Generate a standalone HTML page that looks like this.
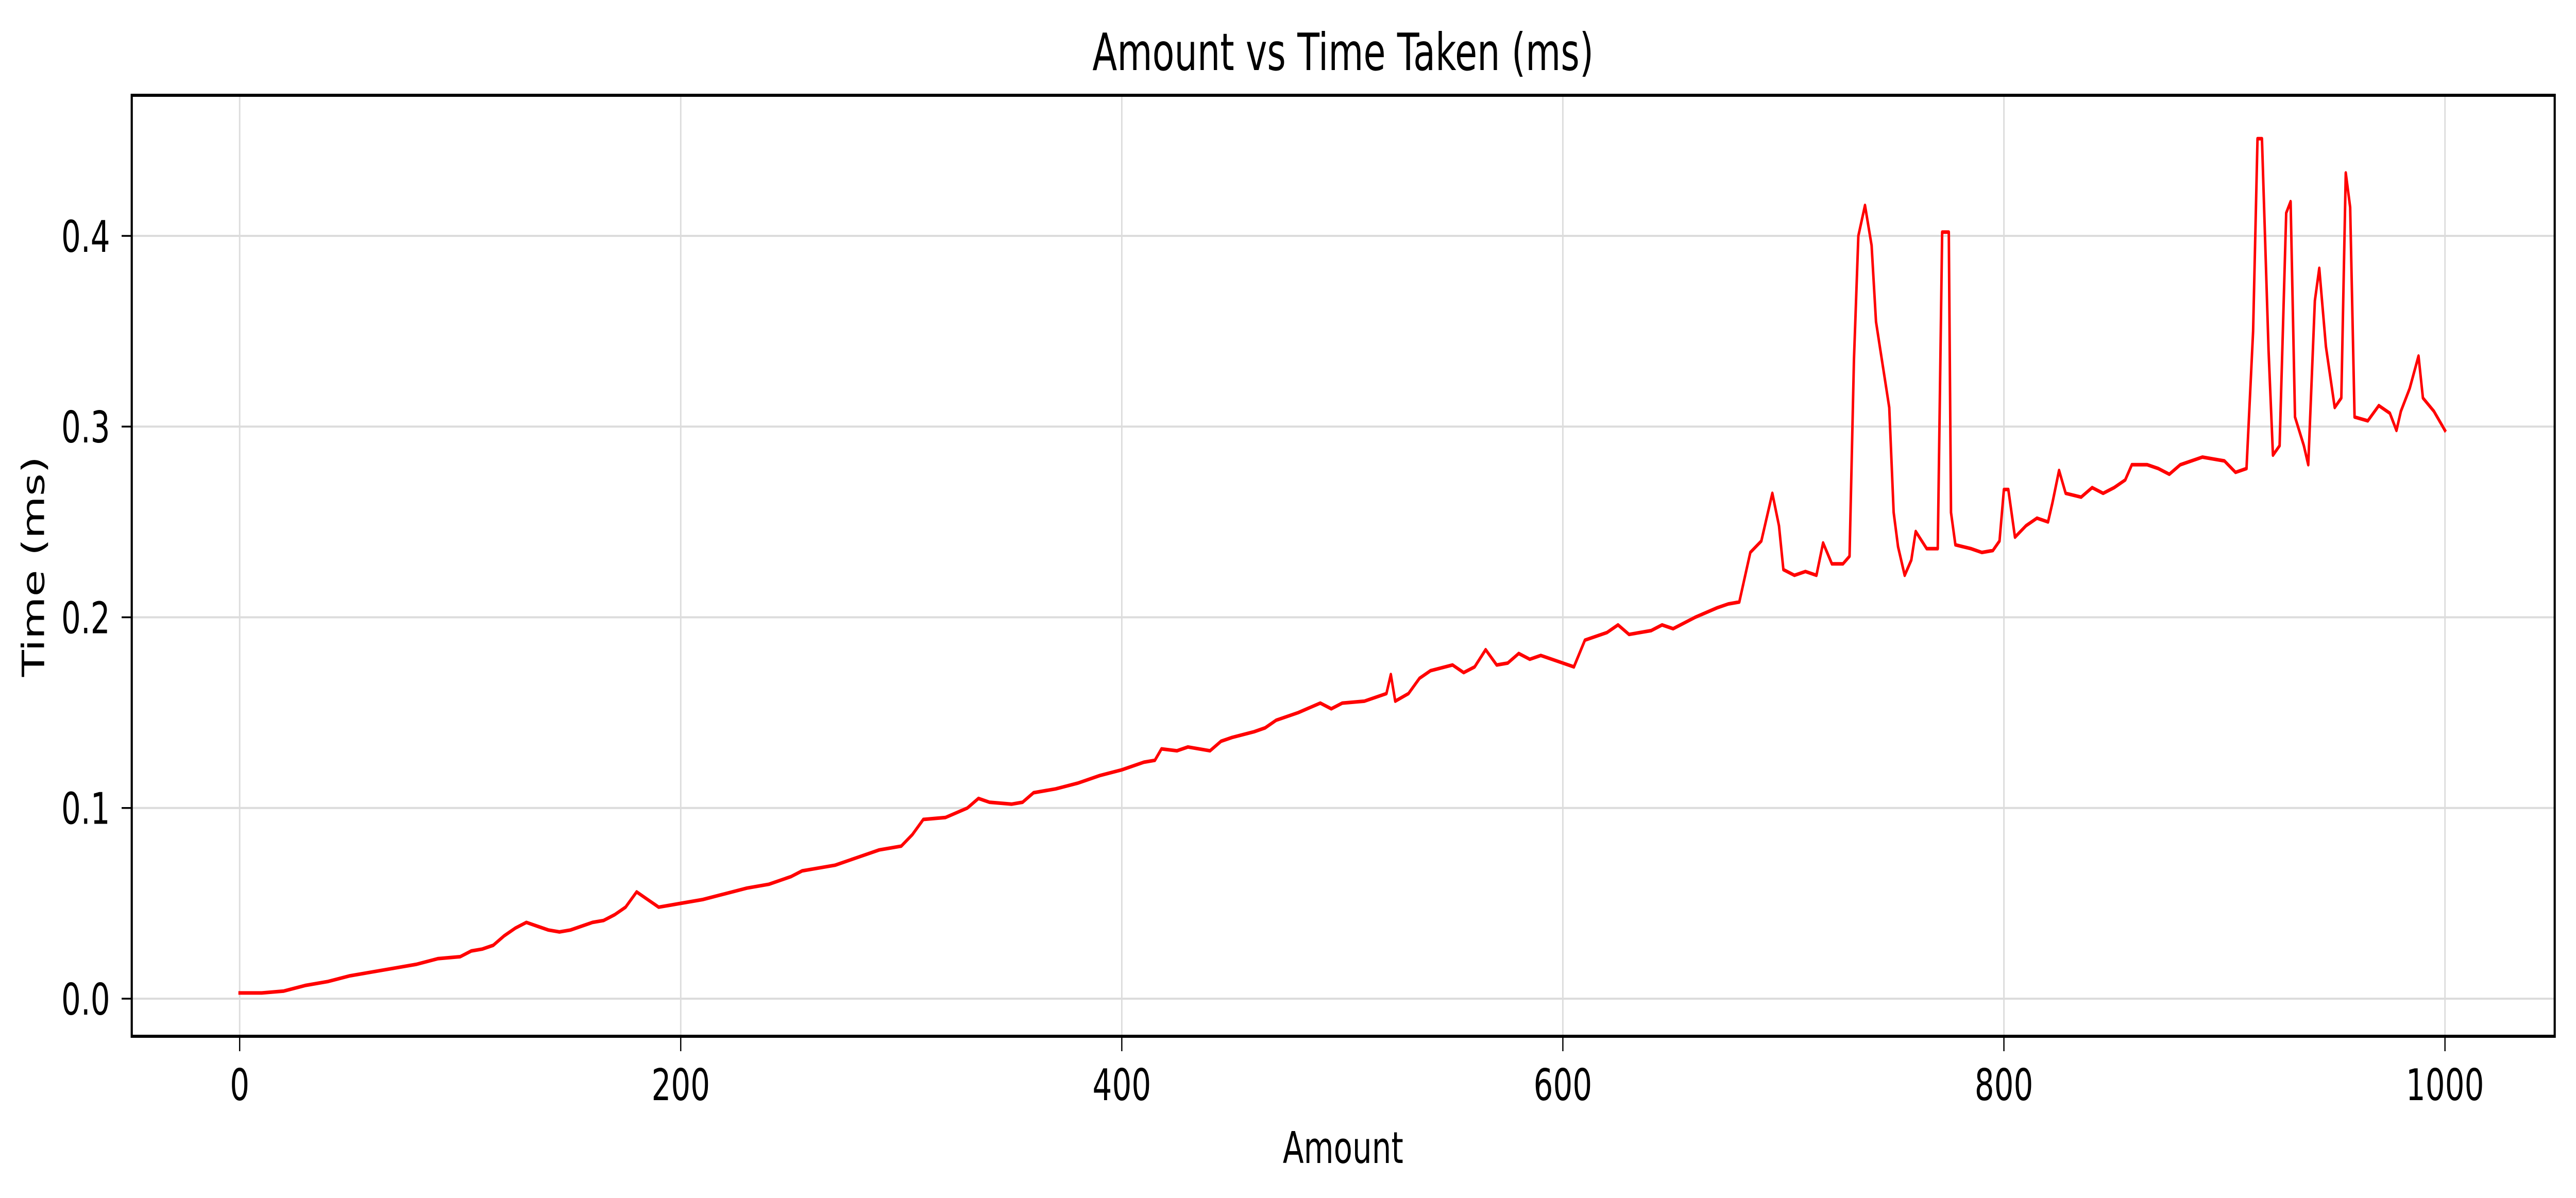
<!DOCTYPE html>
<html><head><meta charset="utf-8"><style>
html,body{margin:0;padding:0;background:#fff;width:100%;height:100%;overflow:hidden;}
svg{display:block;width:100vw;height:100vh;}
text{font-family:"DejaVu Sans","Liberation Sans",sans-serif;fill:#000;}
</style></head>
<body>
<svg id="chart" xmlns="http://www.w3.org/2000/svg" viewBox="0 0 7137 2326" preserveAspectRatio="none">
<rect x="0" y="0" width="7137" height="2326" fill="#fff"/>
<g id="grid"></g>
<g id="series"></g>
<rect x="365" y="185" width="6713" height="1827" fill="none" stroke="#000" stroke-width="6"/>
<g id="ticks"></g>
<text x="3721" y="136" font-size="100" text-anchor="middle">Amount vs Time Taken (ms)</text>
<text x="3721" y="2258" font-size="85" text-anchor="middle">Amount</text>
<text x="0" y="0" font-size="85" text-anchor="middle" transform="translate(122,1100) rotate(-90)">Time (ms)</text>
</svg>
<script>
const amounts=[0,10,20,30,40,50,60,70,80,90,100,105,110,115,120,125,130,135,140,145,150,155,160,165,170,175,180,185,190,195,200,210,220,230,240,250,255,260,270,280,290,300,305,310,320,330,335,340,350,355,360,370,380,390,400,410,415,418,425,430,440,445,450,460,465,470,475,480,490,495,500,510,515,520,522,524,530,535,540,550,555,560,565,570,575,580,585,590,600,605,610,620,625,630,640,645,650,660,670,675,680,685,690,692,695,698,700,705,710,715,718,722,727,730,732,734,737,740,742,744,746,748,750,752,755,758,760,765,770,772,775,776,778,785,790,795,798,800,802,805,810,815,820,822,825,828,835,840,845,850,855,858,865,870,875,880,890,900,905,910,913,915,917,920,922,925,928,930,932,936,938,941,943,946,950,953,955,957,959,965,970,975,978,980,984,988,990,995,1000];
const times=[0.003,0.003,0.004,0.007,0.009,0.012,0.014,0.016,0.018,0.021,0.022,0.025,0.026,0.028,0.033,0.037,0.040,0.038,0.036,0.035,0.036,0.038,0.040,0.041,0.044,0.048,0.056,0.052,0.048,0.049,0.050,0.052,0.055,0.058,0.060,0.064,0.067,0.068,0.070,0.074,0.078,0.080,0.086,0.094,0.095,0.100,0.105,0.103,0.102,0.103,0.108,0.110,0.113,0.117,0.120,0.124,0.125,0.131,0.130,0.132,0.130,0.135,0.137,0.140,0.142,0.146,0.148,0.150,0.155,0.152,0.155,0.156,0.158,0.160,0.170,0.156,0.160,0.168,0.172,0.175,0.171,0.174,0.183,0.175,0.176,0.181,0.178,0.180,0.176,0.174,0.188,0.192,0.196,0.191,0.193,0.196,0.194,0.200,0.205,0.207,0.208,0.234,0.240,0.250,0.265,0.248,0.225,0.222,0.224,0.222,0.239,0.228,0.228,0.232,0.335,0.400,0.416,0.395,0.355,0.340,0.325,0.310,0.255,0.237,0.222,0.230,0.245,0.236,0.236,0.402,0.402,0.255,0.238,0.236,0.234,0.235,0.240,0.267,0.267,0.242,0.248,0.252,0.250,0.260,0.277,0.265,0.263,0.268,0.265,0.268,0.272,0.280,0.280,0.278,0.275,0.280,0.284,0.282,0.276,0.278,0.350,0.451,0.451,0.340,0.285,0.290,0.412,0.418,0.305,0.290,0.280,0.366,0.383,0.342,0.310,0.315,0.433,0.415,0.305,0.303,0.311,0.307,0.298,0.308,0.320,0.337,0.315,0.308,0.298];
const xTicks=[0,200,400,600,800,1000];
const xTickLabels=["0","200","400","600","800","1000"];
const yTicks=[0,0.1,0.2,0.3,0.4];
const yTickLabels=["0.0","0.1","0.2","0.3","0.4"];

const NS="http://www.w3.org/2000/svg";
function xs(v){return 664+(v-0)*(6774-664)/1000;}
function ys(v){return 1939-(v-0)*(1939-458)/0.4;}
const grid=document.getElementById('grid'),ticks=document.getElementById('ticks'),series=document.getElementById('series');
function mk(tag,attrs,parent){const e=document.createElementNS(NS,tag);for(const k in attrs)e.setAttribute(k,attrs[k]);parent.appendChild(e);return e;}
xTicks.forEach((t,i)=>{
  const x=xs(t);
  const g=mk('line',{x1:x,x2:x,y1:185,y2:2012,stroke:'#dcdcdc','stroke-width':4},grid);
  
  
  const tk=mk('line',{x1:x,x2:x,y1:2012,y2:2041,stroke:'#000','stroke-width':3.5},ticks);
  
  
  const tl=mk('text',{x:x,y:2136,'font-size':85,'text-anchor':'middle'},ticks);
  tl.textContent=xTickLabels[i];
  
  
});
yTicks.forEach((t,i)=>{
  const y=ys(t);
  const g=mk('line',{x1:365,x2:7078,y1:y,y2:y,stroke:'#dcdcdc','stroke-width':4},grid);
  
  
  const tk=mk('line',{x1:337,x2:365,y1:y,y2:y,stroke:'#000','stroke-width':3.5},ticks);
  
  
  const tl=mk('text',{x:305,y:y+31,'font-size':85,'text-anchor':'end'},ticks);
  tl.textContent=yTickLabels[i];
  
  
});
const d=amounts.map((a,i)=>(i?'L':'M')+xs(a).toFixed(1)+' '+ys(times[i]).toFixed(1)).join(' ');
const p=mk('path',{d:d,fill:'none',stroke:'#ff0000','stroke-width':7,'stroke-linejoin':'round','stroke-linecap':'square'},series);


</script>
</body></html>
